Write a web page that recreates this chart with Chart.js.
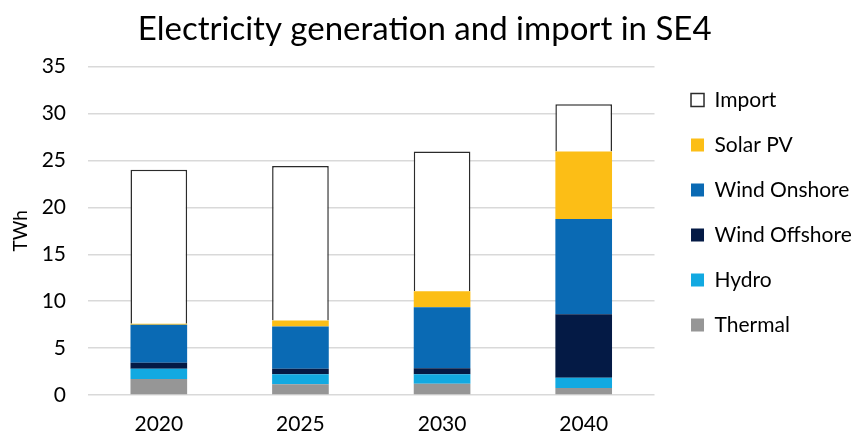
<!DOCTYPE html>
<html>
<head>
<meta charset="utf-8">
<script src="https://cdn.jsdelivr.net/npm/chart.js@4.4.1/dist/chart.umd.min.js"></script>
<style>
  html, body { margin: 0; padding: 0; background: #fff; }
  #wrap { width: 856px; height: 434px; }
</style>
</head>
<body>
<div id="wrap"><canvas id="chart"></canvas></div>
<script>
const years = ["2020", "2025", "2030", "2040"];

const thermal = [1.7, 1.15, 1.2, 0.75];
const hydro = [1.1, 1.05, 1.0, 1.1];
const windOffshore = [0.65, 0.6, 0.65, 6.75];
const windOnshore = [4.05, 4.5, 6.5, 10.15];
const solarPV = [0.1, 0.65, 1.7, 7.2];
const importTWh = [16.4, 16.45, 14.9, 5.05];

const font = "Lato, 'Open Sans', sans-serif";

// the legend in the original sits a bit higher and further right than chart.js puts it
const legendShift = {
  id: "legendShift",
  afterLayout(chart) {
    const lg = chart.legend;
    lg.top -= 4.5;
    lg.bottom -= 4.5;
    lg.left += 12.5;
    lg.right += 12.5;
  },
};

const ctx = document.getElementById("chart").getContext("2d");

new Chart(ctx, {
  type: "bar",
  data: {
    labels: years,
    datasets: [
      { label: "Thermal", data: thermal, backgroundColor: "#969696", borderWidth: 0 },
      { label: "Hydro", data: hydro, backgroundColor: "#12a9e1", borderWidth: 0 },
      { label: "Wind Offshore", data: windOffshore, backgroundColor: "#041a45", borderWidth: 0 },
      { label: "Wind Onshore", data: windOnshore, backgroundColor: "#0a6ab4", borderWidth: 0 },
      { label: "Solar PV", data: solarPV, backgroundColor: "#fcbe16", borderWidth: 0 },
      { label: "Import", data: importTWh, backgroundColor: "#ffffff", borderColor: "#2b2b2b", borderWidth: 1.5 },
    ],
  },
  plugins: [legendShift],
  options: {
    responsive: true,
    maintainAspectRatio: false,
    animation: false,
    layout: { padding: { left: 0, right: 6.7, top: 0, bottom: 0 } },
    datasets: { bar: { barPercentage: 0.4, categoryPercentage: 1.0 } },
    plugins: {
      title: {
        display: true,
        text: "Electricity generation and import in SE4",
        color: "#000",
        font: { family: font, size: 33, weight: "normal" },
        padding: { top: 10, bottom: 17 },
      },
      legend: {
        position: "right",
        reverse: true,
        labels: {
          color: "#000",
          font: { family: font, size: 21 },
          boxWidth: 13,
          boxHeight: 13,
          padding: 24,
        },
      },
      tooltip: { enabled: false },
    },
    scales: {
      x: {
        stacked: true,
        grid: { display: false, drawTicks: false },
        border: { display: false },
        ticks: { color: "#000", font: { family: font, size: 21 }, padding: 17 },
        afterFit: (s) => { s.height = 39; },
      },
      y: {
        stacked: true,
        min: 0,
        max: 35,
        ticks: { stepSize: 5, color: "#000", font: { family: font, size: 21 }, padding: 22 },
        grid: { color: "#d9d9d9", lineWidth: 1.5, drawTicks: false },
        border: { display: false },
        title: { display: true, text: "TWh", color: "#000", font: { family: font, size: 19 }, padding: { top: 9, bottom: 0 } },
        afterFit: (s) => { s.width = 88; },
      },
    },
  },
});
</script>
</body>
</html>
